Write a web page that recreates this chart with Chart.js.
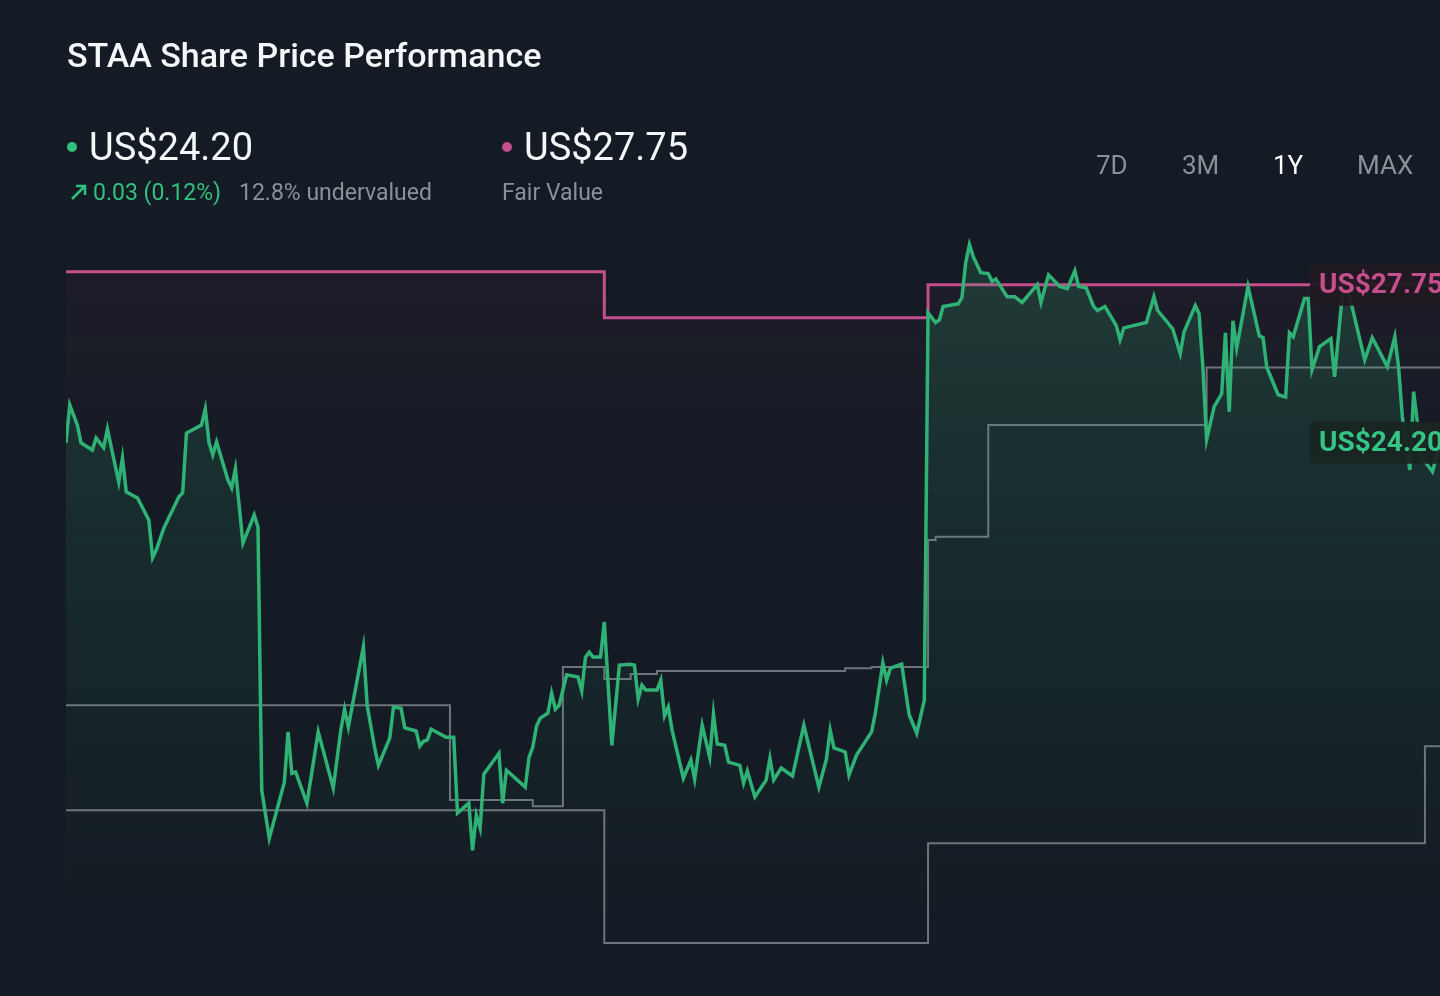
<!DOCTYPE html>
<html>
<head>
<meta charset="utf-8">
<title>STAA Share Price Performance</title>
<script src="https://cdn.jsdelivr.net/npm/chart.js@4.4.1/dist/chart.umd.min.js"></script>
<style>
  html, body { margin: 0; padding: 0; background: #151b24; overflow: hidden; }
  #wrap { position: relative; width: 1440px; height: 996px; }
</style>
</head>
<body>
<div id="wrap"><canvas id="chart" width="1440" height="996"></canvas></div>
<script>
// calendar day of the 1Y window (0 = start) and closing price, US$
const priceDays = [0, 1, 3, 4, 7, 8, 10, 11, 14, 15, 16, 19, 22, 23, 24, 26, 30, 31, 32, 36, 37, 38, 39, 40, 43, 44, 45, 47, 50, 51,
  52, 54, 58, 59, 60, 61, 64, 67, 71, 73, 74, 75, 79, 80, 82, 83, 86, 87, 89, 90, 93, 94, 95, 96, 97, 101, 103,
  104, 107, 108, 109, 110, 111, 115, 116, 117, 122, 123, 124, 125, 126, 128, 129, 130, 131, 133, 136, 137, 138, 139, 140, 142, 143,
  145, 147, 150, 151, 152, 153, 154, 157, 158, 159, 160, 161, 164, 166, 167, 169, 171, 172, 173, 175, 176, 179, 180, 181, 183,
  186, 187, 188, 190, 193, 196, 200, 202, 203, 204, 207, 208, 210, 214, 215, 217, 218, 219, 222, 223, 224, 226, 228,
  229, 231, 232, 233, 237, 238, 239, 240, 241, 243, 245, 246, 247, 250, 252, 254, 258, 259, 261, 264, 266, 268, 269, 271,
  273, 274, 276, 279, 280, 281, 287, 289, 290, 294, 296, 297, 300, 301, 302, 303, 305, 307, 308, 309, 310, 311, 314,
  317, 318, 319, 322, 324, 325, 326, 329, 330, 331, 333, 336, 337, 339, 340, 341, 345, 347, 351, 353, 354, 355, 357,
  358, 359, 360, 363, 365];
const closePrices = [24.20, 25.05, 24.60, 24.20, 24.04, 24.31, 24.09, 24.51, 23.32, 23.86, 23.10, 22.96, 22.47, 21.62, 21.80, 22.29, 22.99, 23.08, 24.42, 24.60, 24.96, 24.20, 23.93, 24.22, 23.37, 23.19, 23.62, 21.95, 22.58, 22.31,
  16.40, 15.32, 16.58, 17.71, 16.78, 16.81, 16.11, 17.71, 16.45, 17.75, 18.22, 17.82, 19.62, 18.31, 17.35, 16.96, 17.57, 18.27, 18.24, 17.80, 17.73, 17.39, 17.50, 17.53, 17.77, 17.59, 17.59,
  15.89, 16.11, 15.05, 15.84, 15.55, 16.76, 17.23, 16.11, 16.85, 16.47, 17.14, 17.37, 17.84, 18.02, 18.13, 18.58, 18.22, 18.31, 18.99, 18.94, 18.63, 19.39, 19.50, 19.39, 19.39, 20.18,
  17.41, 19.21, 19.23, 19.21, 18.45, 18.76, 18.65, 18.65, 18.87, 18.07, 18.27, 17.75, 16.67, 17.08, 16.65, 17.86, 17.14, 18.11, 17.44, 17.41, 17.03, 16.96, 16.56, 16.83, 16.25,
  16.63, 17.12, 16.63, 16.90, 16.72, 17.86, 16.47, 17.10, 17.75, 17.35, 17.26, 16.74, 17.19, 17.71, 18.13, 19.26, 18.87, 19.14, 19.23, 18.65, 18.09, 17.68, 18.42,
  27.12, 26.90, 26.96, 27.26, 27.32, 27.46, 28.24, 28.65, 28.38, 28.02, 28.00, 27.82, 27.88, 27.48, 27.48, 27.35, 27.75, 27.35, 27.97, 27.71, 27.66, 28.06, 27.71, 27.68,
  27.26, 27.17, 27.26, 26.83, 26.51, 26.78, 26.90, 27.48, 27.17, 26.76, 26.20, 26.69, 27.28, 27.10, 25.91, 24.27, 25.01, 25.30, 26.67, 24.90, 26.94, 26.33, 27.71,
  26.60, 26.56, 25.89, 25.28, 25.23, 26.67, 26.58, 27.44, 27.44, 25.84, 26.36, 26.54, 25.68, 27.48, 27.64, 27.48, 26.06, 26.56, 25.91, 26.58, 25.89, 24.78, 23.59,
  25.35, 24.65, 23.90, 23.55, 24.20];

// fair value estimate (step series)
const fairDays = [0, 143, 229, 365];
const fairValues = [28.04, 27.01, 27.75, 27.75];

// grey step series (upper and lower)
const upperDays = [0, 102, 124, 132, 143, 150, 157, 207, 214, 229, 231, 245, 303, 365];
const upperValues = [18.31, 16.18, 16.04, 19.17, 18.90, 19.01, 19.08, 19.14, 19.17, 22.02, 22.09, 24.60, 25.89, 25.89];
const lowerDays = [0, 143, 229, 361, 365];
const lowerValues = [15.95, 12.97, 15.21, 17.39, 17.39];

const lastPrice = 24.20;
const fairValue = 27.75;
const title = 'STAA Share Price Performance';
const ranges = ['7D', '3M', '1Y', 'MAX'];

const GREEN = '#2fb275';
const PINK = '#c54e8c';
const GREY = '#6e737b';

function toPoints(xs, ys) {
  return xs.map((x, i) => ({ x: x, y: ys[i] }));
}

function vGradient(rgb, a0, a1, stop) {
  return function (context) {
    const chart = context.chart;
    const area = chart.chartArea;
    if (!area) return 'transparent';
    const g = chart.ctx.createLinearGradient(0, area.top, 0, area.bottom);
    g.addColorStop(0, 'rgba(' + rgb + ',' + a0 + ')');
    g.addColorStop(stop, 'rgba(' + rgb + ',' + a1 + ')');
    g.addColorStop(1, 'rgba(' + rgb + ',' + a1 + ')');
    return g;
  };
}

const headerPlugin = {
  id: 'header',
  afterDraw(chart) {
    const ctx = chart.ctx;
    ctx.save();
    ctx.textBaseline = 'alphabetic';
    ctx.textAlign = 'left';

    ctx.fillStyle = '#f5f6f8';
    ctx.font = '500 34px Roboto';
    ctx.fillText(title, 67, 67);

    // current price
    ctx.fillStyle = '#2fc27f';
    ctx.beginPath(); ctx.arc(72, 147, 5, 0, Math.PI * 2); ctx.fill();
    ctx.fillStyle = '#f5f6f8';
    ctx.font = '38px Roboto';
    ctx.fillText('US$' + lastPrice.toFixed(2), 89, 160);

    // arrow
    ctx.strokeStyle = '#2fc27f';
    ctx.lineWidth = 2.5;
    ctx.beginPath();
    ctx.moveTo(72, 199); ctx.lineTo(85, 186);
    ctx.moveTo(76, 186); ctx.lineTo(85, 186); ctx.lineTo(85, 195);
    ctx.stroke();

    ctx.font = '23px Roboto';
    ctx.fillStyle = '#2fc27f';
    ctx.fillText('0.03 (0.12%)', 93, 200);
    ctx.fillStyle = '#8b9099';
    ctx.fillText('12.8% undervalued', 239, 200);

    // fair value
    ctx.fillStyle = PINK;
    ctx.beginPath(); ctx.arc(507, 147, 5, 0, Math.PI * 2); ctx.fill();
    ctx.fillStyle = '#f5f6f8';
    ctx.font = '38px Roboto';
    ctx.fillText('US$' + fairValue.toFixed(2), 524, 160);
    ctx.fillStyle = '#8b9099';
    ctx.font = '23px Roboto';
    ctx.fillText('Fair Value', 502, 200);

    // range buttons
    ctx.font = '26px Roboto';
    const bx = [1096, 1182, 1273, 1357];
    ranges.forEach((r, i) => {
      ctx.fillStyle = r === '1Y' ? '#ffffff' : '#8b9099';
      ctx.fillText(r, bx[i], 174);
    });
    ctx.restore();
  }
};

const tagPlugin = {
  id: 'tags',
  afterDatasetsDraw(chart) {
    const ctx = chart.ctx;
    const y = chart.scales.y;
    const left = chart.chartArea.right - 130;
    function tag(value, color, bg) {
      const py = y.getPixelForValue(value);
      ctx.save();
      ctx.fillStyle = bg;
      ctx.beginPath();
      ctx.roundRect(left, py - 21, 170, 42, 5);
      ctx.fill();
      ctx.fillStyle = color;
      ctx.font = 'bold 28px Roboto';
      ctx.textBaseline = 'middle';
      ctx.fillText('US$' + value.toFixed(2), left + 9, py + 1);
      ctx.restore();
    }
    tag(fairValue, PINK, 'rgba(33,25,34,0.95)');
    tag(lastPrice, '#34c483', 'rgba(26,37,35,0.95)');
  }
};

new Chart(document.getElementById('chart').getContext('2d'), {
  type: 'line',
  data: {
    datasets: [
      {
        data: toPoints(priceDays, closePrices),
        borderColor: GREEN,
        borderWidth: 3.5,
        pointRadius: 0,
        tension: 0,
        fill: 'start',
        backgroundColor: vGradient('46,178,118', 0.2, 0.0, 0.95)
      },
      {
        data: toPoints(fairDays, fairValues),
        stepped: true,
        borderColor: PINK,
        borderWidth: 3,
        pointRadius: 0,
        fill: 'start',
        backgroundColor: vGradient('197,78,140', 0.06, 0.0, 0.4)
      },
      {
        data: toPoints(upperDays, upperValues),
        stepped: true,
        borderColor: GREY,
        borderWidth: 2,
        pointRadius: 0,
        fill: false
      },
      {
        data: toPoints(lowerDays, lowerValues),
        stepped: true,
        borderColor: GREY,
        borderWidth: 2,
        pointRadius: 0,
        fill: false
      }
    ]
  },
  options: {
    responsive: false,
    animation: false,
    layout: { padding: { left: 66, right: 0, top: 229, bottom: 32 } },
    scales: {
      x: { type: 'linear', min: 0, max: 365, display: false },
      y: { min: 12.5, max: 29, display: false }
    },
    plugins: {
      legend: { display: false },
      tooltip: { enabled: false }
    }
  },
  plugins: [headerPlugin, tagPlugin]
});
</script>
</body>
</html>
